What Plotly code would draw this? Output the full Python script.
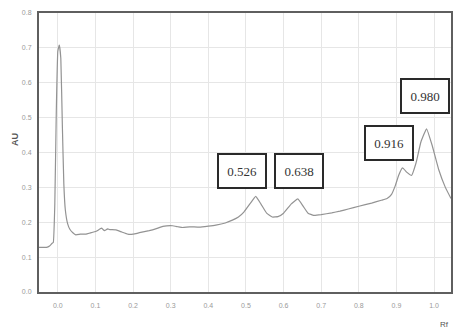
import plotly.graph_objects as go

# Densitogram trace: retardation factor (Rf) vs absorbance (AU)
rf = [-0.05, -0.03, -0.022, -0.015, -0.012, -0.008, -0.004, 0.000, 0.004, 0.008,
      0.012, 0.016, 0.020, 0.026, 0.032, 0.040, 0.048, 0.060, 0.075, 0.085,
      0.102, 0.116, 0.124, 0.132, 0.138, 0.155, 0.170, 0.186, 0.200, 0.217,
      0.243, 0.260, 0.279, 0.305, 0.320, 0.332, 0.350, 0.376, 0.400, 0.420,
      0.445, 0.464, 0.480, 0.495, 0.512, 0.526, 0.540, 0.555, 0.570, 0.585,
      0.600, 0.620, 0.638, 0.652, 0.665, 0.680, 0.700, 0.728, 0.750, 0.772,
      0.800, 0.834, 0.860, 0.875, 0.887, 0.897, 0.906, 0.916, 0.928, 0.940,
      0.952, 0.965, 0.980, 0.995, 1.012, 1.030, 1.045]
au = [0.128, 0.128, 0.132, 0.140, 0.142, 0.250, 0.520, 0.690, 0.709, 0.670,
      0.480, 0.310, 0.235, 0.196, 0.180, 0.170, 0.164, 0.166, 0.166, 0.169,
      0.174, 0.183, 0.176, 0.181, 0.179, 0.178, 0.172, 0.166, 0.166, 0.170,
      0.176, 0.181, 0.188, 0.190, 0.187, 0.185, 0.187, 0.186, 0.189, 0.192,
      0.198, 0.206, 0.215, 0.230, 0.255, 0.274, 0.252, 0.226, 0.215, 0.216,
      0.226, 0.252, 0.267, 0.246, 0.226, 0.220, 0.222, 0.227, 0.232, 0.238,
      0.246, 0.255, 0.263, 0.268, 0.280, 0.305, 0.335, 0.356, 0.343, 0.334,
      0.370, 0.430, 0.468, 0.420, 0.352, 0.300, 0.268]

# Labelled spots: Rf value and where its label box sits
peak_rf = [0.526, 0.638, 0.916, 0.980]
label_x = [0.489, 0.640, 0.880, 0.976]
label_y = [0.348, 0.348, 0.427, 0.563]

x_ticks = [0.0, 0.1, 0.2, 0.3, 0.4, 0.5, 0.6, 0.7, 0.8, 0.9, 1.0]
y_ticks = [0.0, 0.1, 0.2, 0.3, 0.4, 0.5, 0.6, 0.7, 0.8]

fig = go.Figure()
fig.add_trace(go.Scatter(
    x=rf, y=au, mode="lines",
    line=dict(color="#939393", width=1.2, shape="spline", smoothing=0.3),
    hoverinfo="skip", showlegend=False,
))

for px, lx, ly in zip(peak_rf, label_x, label_y):
    fig.add_annotation(
        x=lx, y=ly, xref="x", yref="y", showarrow=False,
        text=f"{px:.3f}",
        font=dict(family="Liberation Serif", size=13, color="#333333"),
        bgcolor="white", bordercolor="#2a2a2a", borderwidth=2, borderpad=1,
        width=44, height=30,
    )

axis_common = dict(
    showline=True, linecolor="#5f5f5f", linewidth=2, mirror=True,
    showgrid=True, gridcolor="#e6e6e6", gridwidth=1,
    zeroline=False, ticks="",
    tickfont=dict(family="Liberation Sans", size=7, color="#9a9a9a"),
)

fig.update_xaxes(range=[-0.05, 1.045], tickvals=x_ticks,
                 ticktext=[f"{v:.1f}" for v in x_ticks], ticklabelstandoff=6,
                 **axis_common)
fig.update_yaxes(range=[0.0, 0.8], tickvals=y_ticks,
                 ticktext=[f"{v:.1f}" for v in y_ticks], ticklabelstandoff=4,
                 **axis_common)

# Axis titles, positioned in paper coordinates of the 414x279 plot area
fig.add_annotation(xref="paper", yref="paper",
                   x=(15 - 39) / 414, y=(292 - 140) / 279,
                   xanchor="center", yanchor="middle",
                   text="<b>AU</b>", showarrow=False, textangle=-90,
                   font=dict(family="Liberation Sans", size=9, color="#555555"))
fig.add_annotation(xref="paper", yref="paper",
                   x=(446 - 39) / 414, y=(292 - 325) / 279,
                   xanchor="center", yanchor="middle",
                   text="Rf", showarrow=False,
                   font=dict(family="Liberation Sans", size=8, color="#555555"))

fig.update_layout(
    width=454, height=333,
    margin=dict(l=39, r=1, t=13, b=41),
    plot_bgcolor="white", paper_bgcolor="white",
)

fig.write_html("out.html")
